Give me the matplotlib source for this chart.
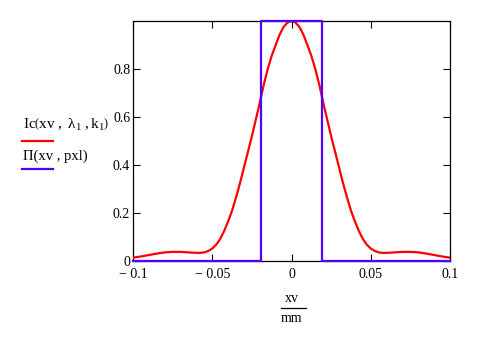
import matplotlib
matplotlib.use("Agg")
import matplotlib.pyplot as plt
from matplotlib.lines import Line2D

plt.rcParams['font.family'] = 'Liberation Serif'
plt.rcParams['mathtext.fontset'] = 'custom'
plt.rcParams['mathtext.rm'] = 'Liberation Serif'
plt.rcParams['mathtext.it'] = 'Liberation Serif:italic'

# intensity profile Ic(xv, lambda1, k1), xv in mm
xv = [-0.1, -0.095, -0.09, -0.085, -0.08, -0.075, -0.07, -0.065, -0.06, -0.0575,
      -0.055, -0.0525, -0.05, -0.0475, -0.045, -0.0425, -0.04, -0.0375, -0.035,
      -0.0325, -0.03, -0.0275, -0.025, -0.0225, -0.02, -0.0175, -0.015, -0.0125,
      -0.01, -0.0075, -0.005, -0.0025, 0.0,
      0.0025, 0.005, 0.0075, 0.01, 0.0125, 0.015, 0.0175, 0.02, 0.0225, 0.025,
      0.0275, 0.03, 0.0325, 0.035, 0.0375, 0.04, 0.0425, 0.045, 0.0475, 0.05,
      0.0525, 0.055, 0.0575, 0.06, 0.065, 0.07, 0.075, 0.08, 0.085, 0.09, 0.095, 0.1]
ic = [0.014, 0.019, 0.025, 0.031, 0.036, 0.038, 0.038, 0.036, 0.034, 0.034,
      0.036, 0.042, 0.052, 0.068, 0.092, 0.125, 0.165, 0.21, 0.265,
      0.325, 0.39, 0.455, 0.52, 0.59, 0.66, 0.735, 0.80, 0.855,
      0.90, 0.943, 0.975, 0.994, 1.0,
      0.994, 0.975, 0.943, 0.90, 0.855, 0.80, 0.735, 0.66, 0.59, 0.52,
      0.455, 0.39, 0.325, 0.265, 0.21, 0.165, 0.125, 0.092, 0.068, 0.052,
      0.042, 0.036, 0.034, 0.034, 0.036, 0.038, 0.038, 0.036, 0.031, 0.025, 0.019, 0.014]

# pixel aperture Pi(xv, pxl)
pix_x = [-0.1, -0.0193, -0.0193, 0.0193, 0.0193, 0.1]
pix_y = [0, 0, 1, 1, 0, 0]

x_ticks = [-0.1, -0.05, 0, 0.05, 0.1]
x_labels = ['\u2212 0.1', '\u2212 0.05', '0', '0.05', '0.1']
y_ticks = [0, 0.2, 0.4, 0.6, 0.8]
y_labels = ['0', '0.2', '0.4', '0.6', '0.8']

RED = '#ff0000'
BLUE = '#5000ff'

fig = plt.figure(figsize=(4.79, 3.42), dpi=100)
ax = fig.add_axes([0.2777, 0.2368, 0.6618, 0.7018])

ax.plot(xv, ic, color=RED, lw=1.6, zorder=3)
ax.plot(pix_x, pix_y, color=BLUE, lw=1.6, zorder=4, clip_on=False)

ax.set_xlim(-0.1, 0.1)
ax.set_ylim(0, 1)
ax.set_xticks(x_ticks)
ax.set_xticklabels(x_labels)
ax.set_yticks(y_ticks)
ax.set_yticklabels(y_labels)
ax.tick_params(direction='in', length=5.3, width=0.8, colors='black',
               labelsize=10, top=True, right=True)
ax.tick_params(axis='x', pad=5)
ax.tick_params(axis='y', pad=2)
for sp in ax.spines.values():
    sp.set_linewidth(0.9)
    sp.set_color('black')

# axis label as a fraction xv / mm
fig.text(291.5 / 479, 1 - 298 / 342, 'xv', ha='center', va='center', fontsize=10)
fig.text(291.5 / 479, 1 - 319 / 342, 'mm', ha='center', va='center', fontsize=10)
fig.add_artist(Line2D([281 / 479, 306 / 479], [1 - 308 / 342, 1 - 308 / 342],
                      color='black', lw=0.9))

# trace labels on the left
fig.text(23 / 479, 1 - 125 / 342,
         r'$\mathrm{Ic}\left(\mathrm{xv}\ ,\ \mathrm{λ}_{1}\ ,\mathrm{k}_{1}\right)$',
         ha='left', va='center', fontsize=11)
fig.add_artist(Line2D([22 / 479, 53 / 479], [1 - 141 / 342, 1 - 141 / 342],
                      color=RED, lw=1.6))
fig.text(23 / 479, 1 - 156 / 342, '\u03a0(xv , pxl)',
         ha='left', va='center', fontsize=10.5)
fig.add_artist(Line2D([22 / 479, 53 / 479], [1 - 169 / 342, 1 - 169 / 342],
                      color=BLUE, lw=1.6))

fig.savefig('out.png', dpi=100)
